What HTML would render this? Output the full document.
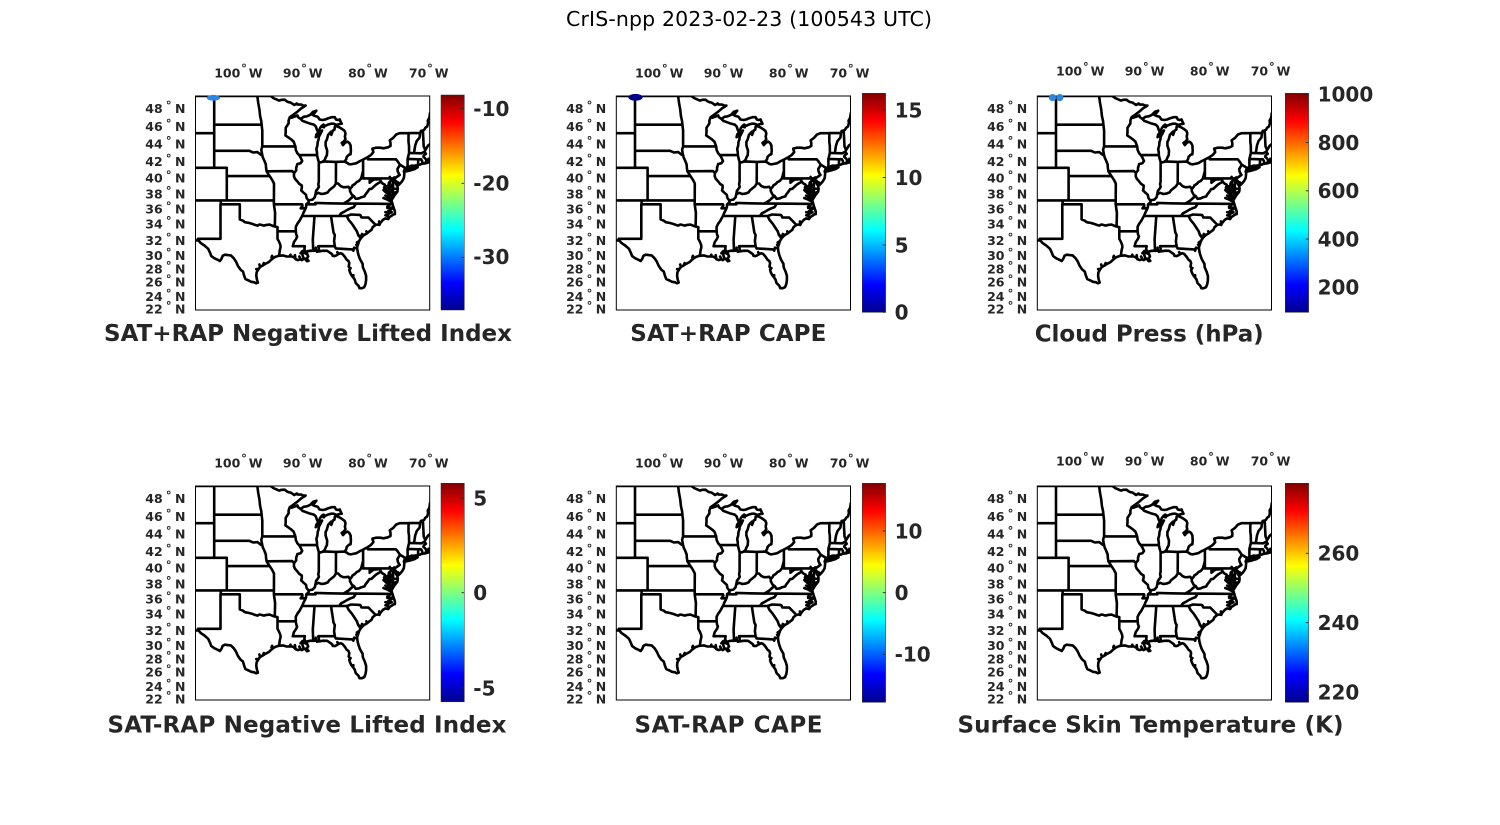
<!DOCTYPE html>
<html><head><meta charset="utf-8">
<style>
html,body{margin:0;padding:0;background:#fff;}
svg{display:block;}
.t12{font-family:"DejaVu Sans","Liberation Sans",sans-serif;font-weight:bold;font-size:12.5px;fill:#262626;}
.t20{font-family:"DejaVu Sans","Liberation Sans",sans-serif;font-weight:bold;font-size:20px;fill:#262626;}
.t23{font-family:"DejaVu Sans","Liberation Sans",sans-serif;font-weight:bold;font-size:23px;fill:#262626;}
.tm{font-family:"DejaVu Sans","Liberation Sans",sans-serif;font-size:20.5px;fill:#000;}
</style></head>
<body>
<svg width="1500" height="825" viewBox="0 0 1500 825" xmlns="http://www.w3.org/2000/svg">
<defs>
<linearGradient id="jet" x1="0" y1="1" x2="0" y2="0">
<stop offset="0" stop-color="#00008f"/>
<stop offset="0.125" stop-color="#0000ff"/>
<stop offset="0.375" stop-color="#00ffff"/>
<stop offset="0.625" stop-color="#ffff00"/>
<stop offset="0.875" stop-color="#ff0000"/>
<stop offset="1" stop-color="#800000"/>
</linearGradient>
<clipPath id="mc"><rect x="0" y="0" width="234.2" height="214"/></clipPath>
<g id="map">
<rect x="0" y="0" width="234.2" height="214" fill="#fff"/>
<path id="mp" clip-path="url(#mc)" fill="none" stroke="#000" stroke-width="2.6" stroke-linejoin="round" stroke-linecap="round" d=""/>
<rect x="0" y="0" width="234.2" height="214" fill="none" stroke="#000" stroke-width="1"/>
</g>
<g id="lat">
<text class="t12" text-anchor="end" x="-32.8" y="17">48</text>
<text class="t12" text-anchor="end" x="-32.8" y="35.1">46</text>
<text class="t12" text-anchor="end" x="-32.8" y="52.4">44</text>
<text class="t12" text-anchor="end" x="-32.8" y="70.1">42</text>
<text class="t12" text-anchor="end" x="-32.8" y="86.7">40</text>
<text class="t12" text-anchor="end" x="-32.8" y="102.4">38</text>
<text class="t12" text-anchor="end" x="-32.8" y="117.7">36</text>
<text class="t12" text-anchor="end" x="-32.8" y="132.4">34</text>
<text class="t12" text-anchor="end" x="-32.8" y="149.1">32</text>
<text class="t12" text-anchor="end" x="-32.8" y="164.1">30</text>
<text class="t12" text-anchor="end" x="-32.8" y="177.4">28</text>
<text class="t12" text-anchor="end" x="-32.8" y="190.7">26</text>
<text class="t12" text-anchor="end" x="-32.8" y="205.1">24</text>
<text class="t12" text-anchor="end" x="-32.8" y="217.4">22</text>
<g class="t12">
<text x="-20.5" y="17">N</text><text x="-20.5" y="35.1">N</text><text x="-20.5" y="52.4">N</text><text x="-20.5" y="70.1">N</text><text x="-20.5" y="86.7">N</text><text x="-20.5" y="102.4">N</text><text x="-20.5" y="117.7">N</text><text x="-20.5" y="132.4">N</text><text x="-20.5" y="149.1">N</text><text x="-20.5" y="164.1">N</text><text x="-20.5" y="177.4">N</text><text x="-20.5" y="190.7">N</text><text x="-20.5" y="205.1">N</text><text x="-20.5" y="217.4">N</text>
</g>
<g fill="none" stroke="#262626" stroke-width="0.9">
<circle cx="-26.8" cy="6.5" r="1.4"/><circle cx="-26.8" cy="24.6" r="1.4"/><circle cx="-26.8" cy="41.9" r="1.4"/><circle cx="-26.8" cy="59.6" r="1.4"/><circle cx="-26.8" cy="76.2" r="1.4"/><circle cx="-26.8" cy="91.9" r="1.4"/><circle cx="-26.8" cy="107.2" r="1.4"/><circle cx="-26.8" cy="121.9" r="1.4"/><circle cx="-26.8" cy="138.6" r="1.4"/><circle cx="-26.8" cy="153.6" r="1.4"/><circle cx="-26.8" cy="166.9" r="1.4"/><circle cx="-26.8" cy="180.2" r="1.4"/><circle cx="-26.8" cy="194.6" r="1.4"/><circle cx="-26.8" cy="206.9" r="1.4"/>
</g>
</g>
<g id="lon">
<text class="t12" text-anchor="end" x="44.8" y="0">100</text>
<text class="t12" text-anchor="end" x="104.8" y="0">90</text>
<text class="t12" text-anchor="end" x="170" y="0">80</text>
<text class="t12" text-anchor="end" x="230.8" y="0">70</text>
<text class="t12" x="53.3" y="0">W</text>
<text class="t12" x="113.3" y="0">W</text>
<text class="t12" x="178.5" y="0">W</text>
<text class="t12" x="239.3" y="0">W</text>
<g fill="none" stroke="#262626" stroke-width="0.9">
<circle cx="48.5" cy="-11.8" r="1.4"/><circle cx="108.5" cy="-11.8" r="1.4"/><circle cx="173.7" cy="-11.8" r="1.4"/><circle cx="234.5" cy="-11.8" r="1.4"/>
</g>
</g>
</defs>

<text class="tm" x="749" y="26" text-anchor="middle" textLength="366">CrIS-npp 2023-02-23 (100543 UTC)</text>

<use href="#map" x="195.5" y="96"/>
<use href="#map" x="616.3" y="96"/>
<use href="#map" x="1037.3" y="96"/>
<use href="#map" x="195.5" y="486"/>
<use href="#map" x="616.3" y="486"/>
<use href="#map" x="1037.3" y="486"/>

<use href="#lat" x="195.5" y="96"/>
<use href="#lat" x="616.3" y="96"/>
<use href="#lat" x="1037.3" y="96"/>
<use href="#lat" x="195.5" y="486"/>
<use href="#lat" x="616.3" y="486"/>
<use href="#lat" x="1037.3" y="486"/>

<use href="#lon" x="195.5" y="77.3"/>
<use href="#lon" x="616.3" y="77.5"/>
<use href="#lon" x="1037.3" y="75.7"/>
<use href="#lon" x="195.5" y="467.3"/>
<use href="#lon" x="616.3" y="467.3"/>
<use href="#lon" x="1037.3" y="465.7"/>

<ellipse cx="213.4" cy="97.8" rx="6.7" ry="2.9" fill="#2a86e0"/>
<ellipse cx="635.5" cy="97.3" rx="7.2" ry="3.4" fill="#00008c"/>
<circle cx="1052.5" cy="97.6" r="3.6" fill="#2c87dc"/>
<circle cx="1059.8" cy="97.6" r="3.6" fill="#2c87dc"/>

<g stroke="#262626" stroke-width="0.5">
<rect x="441" y="95" width="23.3" height="215" fill="url(#jet)"/>
<rect x="862.3" y="93.3" width="23.3" height="219" fill="url(#jet)"/>
<rect x="1285.3" y="93.3" width="23.3" height="219" fill="url(#jet)"/>
<rect x="441" y="483.3" width="23.3" height="218.5" fill="url(#jet)"/>
<rect x="862.3" y="483.3" width="23.3" height="219" fill="url(#jet)"/>
<rect x="1285.3" y="483.3" width="23.3" height="219" fill="url(#jet)"/>
</g>
<g stroke="#262626" stroke-width="0.9">
<path d="M461.5 108.5H464.3M461.5 183.3H464.3M461.5 257.5H464.3"/>
<path d="M882.8 110H885.6M882.8 177.5H885.6M882.8 245H885.6M882.8 312.3H885.6"/>
<path d="M1305.8 94.3H1308.6M1305.8 142.6H1308.6M1305.8 190.8H1308.6M1305.8 239.1H1308.6M1305.8 287.3H1308.6"/>
<path d="M461.5 498.3H464.3M461.5 592.7H464.3M461.5 688H464.3"/>
<path d="M882.8 531H885.6M882.8 592.7H885.6M882.8 654.3H885.6"/>
<path d="M1305.8 553.3H1308.6M1305.8 622.7H1308.6M1305.8 692.3H1308.6"/>
</g>
<g class="t20">
<text x="473.3" y="115.8">-10</text>
<text x="473.3" y="190.6">-20</text>
<text x="473.3" y="264">-30</text>
<text x="894.6" y="117.3">15</text>
<text x="894.6" y="184.8">10</text>
<text x="894.6" y="252.3">5</text>
<text x="894.6" y="319.6">0</text>
<text x="1317.6" y="101.6">1000</text>
<text x="1317.6" y="149.9">800</text>
<text x="1317.6" y="198.1">600</text>
<text x="1317.6" y="246.4">400</text>
<text x="1317.6" y="294.6">200</text>
<text x="473.3" y="505.6">5</text>
<text x="473.3" y="600">0</text>
<text x="473.3" y="695.3">-5</text>
<text x="894.6" y="538.3">10</text>
<text x="894.6" y="600">0</text>
<text x="894.6" y="661.6">-10</text>
<text x="1317.6" y="560.6">260</text>
<text x="1317.6" y="630">240</text>
<text x="1317.6" y="699.6">220</text>
</g>

<g class="t23" text-anchor="middle">
<text x="308" y="341" textLength="408">SAT+RAP Negative Lifted Index</text>
<text x="728.3" y="341" textLength="196">SAT+RAP CAPE</text>
<text x="1149.2" y="341.3" textLength="229">Cloud Press (hPa)</text>
<text x="307" y="732.7" textLength="399">SAT-RAP Negative Lifted Index</text>
<text x="728.5" y="732.7" textLength="188">SAT-RAP CAPE</text>
<text x="1150.5" y="732.7" textLength="386">Surface Skin Temperature (K)</text>
</g>
</svg>

<script>
(function(){
var R=362.7, K=R*Math.PI/180;
function M(l){return Math.log(Math.tan(Math.PI/4+l*Math.PI/360));}
var M49=M(49);
var L=[
[-107,49,-95.15,49,-94.9,48.9,-94.7,48.78,-94.2,48.65,-93.8,48.52,-93.4,48.6,-92.9,48.62,-92.6,48.45,-92.3,48.35,-92.0,48.32,-91.7,48.2,-91.4,48.06,-91.0,48.22,-90.8,48.1,-90.3,48.1,-89.9,47.98,-89.6,48.0,-90.3,47.7,-90.9,47.35,-91.5,47.05,-92.1,46.75,-91.8,46.7,-91.2,46.85,-90.9,46.95,-90.8,46.75,-90.4,46.57,-89.9,46.8,-89.4,46.85,-88.9,47.0,-88.4,47.35,-87.9,47.45,-88.2,47.2,-88.5,47.0,-88.2,46.9,-87.7,46.8,-87.4,46.5,-86.9,46.45,-86.5,46.5,-86.0,46.65,-85.5,46.75,-85.0,46.75,-84.8,46.5,-84.5,46.45,-84.2,46.5,-84.1,46.3,-83.9,46.05,-84.3,46.0,-84.7,45.9,-85.2,46.05,-85.6,46.05,-86.1,45.95,-86.5,45.8,-86.8,45.95,-87.0,45.7,-86.7,45.65,-87.0,45.85,-87.3,45.6,-87.6,45.1,-87.9,44.85,-88.0,44.55,-87.7,44.75,-87.4,45.0,-87.0,45.3,-87.2,45.0,-87.5,44.6,-87.55,44.3,-87.7,44.0,-87.75,43.6,-87.9,43.2,-87.8,42.8,-87.8,42.5,-87.65,42.0,-87.53,41.7,-87.3,41.63,-86.9,41.72,-86.6,41.9,-86.45,42.2,-86.25,42.5,-86.2,43.0,-86.45,43.6,-86.45,44.0,-86.25,44.3,-86.05,44.8,-85.8,45.0,-85.6,45.15,-85.55,44.8,-85.45,45.0,-85.3,45.3,-85.05,45.4,-85.0,45.7,-84.75,45.78,-84.3,45.65,-83.9,45.5,-83.45,45.25,-83.3,45.0,-83.4,44.6,-83.3,44.3,-83.6,44.05,-83.9,43.9,-83.7,43.65,-83.4,43.9,-83.0,44.05,-82.7,43.9,-82.5,43.6,-82.45,43.0,-82.5,42.6,-82.7,42.55,-82.9,42.45,-83.1,42.3,-83.2,42.0,-83.45,41.73,-83.1,41.6,-82.8,41.45,-82.5,41.4,-81.9,41.5,-81.6,41.55,-81.0,41.8,-80.5,41.98,-80.1,42.15,-79.76,42.27,-79.3,42.5,-78.9,42.85,-79.0,43.1,-79.05,43.25,-78.5,43.35,-77.8,43.35,-77.3,43.28,-76.6,43.4,-76.2,43.55,-76.2,43.9,-76.3,44.2,-75.8,44.45,-75.3,44.85,-74.75,45.0,-73.34,45.01,-71.5,45.01,-71.4,45.25,-71.08,45.3,-70.85,45.4,-70.7,45.6,-70.4,45.75,-70.25,46.1,-70.3,46.4,-70.05,46.7,-69.95,47.2],
[-69.9,43.8,-70.25,43.6,-70.6,43.2,-70.75,43.05,-70.8,42.85,-70.6,42.65,-70.95,42.45,-71.0,42.3,-70.7,42.1,-70.5,41.85,-70.6,41.75,-70.0,41.78,-70.05,42.05,-70.2,42.06,-70.0,41.9,-69.95,41.67,-70.3,41.62,-70.65,41.53,-71.0,41.5,-71.15,41.48,-71.4,41.45,-71.5,41.38,-71.85,41.32,-72.3,41.27,-72.9,41.25,-73.3,41.12,-73.65,41.0,-73.78,40.85,-73.95,40.75,-74.0,40.7,-74.1,40.55,-74.0,40.4,-74.05,40.0,-74.1,39.75,-74.35,39.4,-74.6,39.15,-74.9,38.93,-74.95,39.2,-75.2,39.3,-75.5,39.5,-75.55,39.65,-75.5,39.4,-75.3,39.0,-75.1,38.8,-75.05,38.45,-75.1,38.1,-75.3,37.9,-75.6,37.6,-75.9,37.2,-75.97,37.12,-75.95,37.5,-75.85,37.95,-76.1,38.2,-76.3,38.6,-76.2,38.95,-76.3,39.2,-76.1,39.5,-76.0,39.55,-76.2,39.4,-76.45,39.2,-76.5,38.9,-76.5,38.4,-76.3,38.05,-76.6,38.15,-76.9,38.25,-77.0,38.4,-77.2,38.6,-77.05,38.85,-77.0,38.5,-76.5,38.0,-76.3,37.8,-76.4,37.5,-76.25,37.2,-76.5,37.0,-76.3,36.95,-76.0,36.9,-75.9,36.55,-75.75,36.2,-75.5,35.6,-75.5,35.25,-75.75,35.2,-76.0,35.05,-76.3,34.9,-76.55,34.6,-77.0,34.7,-77.4,34.5,-77.8,34.1,-77.95,33.85,-78.2,33.9,-78.55,33.85,-79.0,33.55,-79.2,33.2,-79.6,32.95,-79.9,32.75,-80.4,32.5,-80.7,32.25,-80.9,32.05,-81.15,31.7,-81.3,31.3,-81.45,30.9,-81.45,30.7,-81.4,30.3,-81.25,29.8,-81.0,29.2,-80.6,28.6,-80.55,28.1,-80.25,27.5,-80.05,26.9,-80.05,26.3,-80.15,25.75,-80.35,25.3,-80.7,25.15,-81.1,25.15,-81.25,25.5,-81.7,25.9,-81.85,26.4,-82.1,26.7,-82.35,27.0,-82.6,27.4,-82.7,27.75,-82.6,28.0,-82.8,28.2,-82.7,28.7,-82.85,29.0,-83.1,29.15,-83.45,29.6,-83.8,29.95,-84.1,30.05,-84.4,29.95,-84.75,29.75,-85.0,29.65,-85.35,29.7,-85.4,29.9,-85.7,30.1,-86.2,30.38,-86.8,30.4,-87.3,30.33,-87.55,30.3,-87.8,30.25,-88.0,30.65,-88.1,30.4,-88.4,30.38,-88.8,30.4,-89.3,30.32,-89.6,30.2,-89.75,30.15,-89.6,30.0,-89.4,30.05,-89.2,29.6,-89.45,29.3,-89.15,29.0,-89.4,28.95,-89.7,29.3,-89.95,29.25,-90.2,29.1,-90.4,29.25,-90.8,29.1,-91.2,29.25,-91.4,29.45,-91.75,29.6,-92.1,29.6,-92.6,29.6,-93.2,29.75,-93.85,29.7,-94.4,29.55,-94.75,29.35,-95.05,29.15,-95.4,28.85,-95.95,28.6,-96.4,28.35,-96.8,28.15,-97.05,27.85,-97.35,27.4,-97.4,26.9,-97.3,26.4,-97.15,25.95,-97.45,25.85,-97.7,26.0,-98.2,26.07,-98.6,26.25,-99.1,26.45,-99.3,26.9,-99.5,27.5,-99.9,27.8,-100.3,28.3,-100.6,28.9,-100.95,29.35,-101.4,29.75,-101.9,29.8,-102.35,29.85,-102.7,29.7,-102.9,29.3,-103.15,28.98,-103.5,29.15,-104.0,29.35,-104.5,29.65,-104.7,30.1,-105.0,30.65,-105.6,31.1,-106.2,31.45,-106.53,31.78,-107.1,31.78],
[-74.0,40.6,-73.7,40.58,-73.0,40.7,-72.4,40.85,-71.9,41.07,-72.3,41.05,-72.7,40.95,-73.2,40.92,-73.7,40.87,-74.0,40.7],
[-76.0,36.9,-76.2,36.5,-76.7,36.2,-76.0,35.9,-76.6,35.6,-76.0,35.5,-76.5,35.3,-76.9,35.1,-76.5,34.9,-76.55,34.7],
[-90.4,30.05,-90.1,30.35,-89.8,30.25,-89.95,30.05,-90.4,30.05],
[-76.3,37.6,-76.9,38.0,-77.3,38.3],
[-76.4,37.25,-76.8,37.5,-77.0,37.6],
[-76.3,36.95,-76.7,37.1,-77.3,37.3],
[-76.4,38.3,-76.7,38.8],
[-76.1,39.55,-76.3,39.9],
[-76.25,38.6,-75.9,38.8],
[-76.0,38.25,-75.7,38.5],
[-76.1,38.05,-75.8,38.2],
[-75.75,36.1,-76.7,36.05],
[-76.5,35.35,-77.0,35.5],
[-76.6,35.0,-77.0,35.1],
[-77.95,33.9,-78.0,34.3],
[-79.9,32.75,-80.0,33.0],
[-80.4,32.5,-80.7,32.65],
[-80.7,32.25,-81.0,32.4],
[-81.15,31.7,-81.5,31.5],
[-81.3,31.3,-81.6,31.2],
[-94.75,29.35,-94.9,29.7,-95.0,29.5],
[-96.4,28.35,-96.2,28.7],
[-96.8,28.15,-96.9,28.5],
[-97.05,27.85,-97.4,27.85],
[-89.9,29.3,-90.1,29.8],
[-90.4,29.25,-90.6,29.6],
[-91.2,29.25,-91.3,29.8],
[-92.1,29.6,-92.0,29.85],
[-82.7,27.75,-82.5,28.0],
[-82.1,26.7,-82.05,27.0],
[-88.0,30.65,-88.0,30.8],
[-84.4,29.95,-84.6,30.2],
[-107,45,-104.05,45],
[-104.05,49,-104.05,41],
[-107,41,-102.05,41,-102.05,40,-102.05,37],
[-104.05,45.94,-96.56,45.94],
[-104.05,43,-98.5,43,-97.9,42.8,-97.2,42.85,-96.6,42.5,-96.45,42.49],
[-102.05,40,-95.3,40],
[-107,37,-94.62,37],
[-103.0,37,-103.0,36.5,-100,36.5],
[-103.05,36.5,-103.05,32.0,-106.62,32.0,-106.53,31.78],
[-100,36.5,-100,34.56,-99.5,34.4,-99.2,34.2,-98.5,34.1,-98.1,34.0,-97.6,33.85,-97.2,33.75,-96.9,33.9,-96.6,33.85,-96.2,33.75,-95.8,33.85,-95.3,33.88,-94.9,33.75,-94.5,33.64,-94.04,33.55],
[-94.62,36.5,-94.43,35.4,-94.48,33.64],
[-95.77,40.58,-95.3,40.0,-95.1,39.8,-94.9,39.55,-94.6,39.1,-94.62,36.5],
[-94.62,36.5,-90.15,36.5,-90.1,36.3,-90.38,36.0,-89.7,36.0],
[-94.04,33.55,-94.04,33.0,-91.15,33.0],
[-94.04,33.0,-94.04,32.0,-93.8,31.6,-93.6,31.2,-93.55,30.9,-93.7,30.4,-93.75,30.0,-93.85,29.7],
[-97.23,49.0,-97.1,48.3,-96.9,47.6,-96.8,46.9,-96.6,46.3,-96.56,45.94,-96.45,45.3,-96.45,43.5],
[-96.45,43.5,-91.22,43.5],
[-96.45,43.5,-96.6,43.1,-96.45,42.49],
[-96.45,42.49,-96.35,42.2,-96.1,41.8,-95.9,41.4,-95.85,40.95,-95.77,40.58],
[-95.77,40.58,-91.73,40.61,-91.42,40.38],
[-92.1,46.75,-92.29,46.4,-92.29,46.08,-92.75,45.6,-92.75,45.1,-92.8,44.75,-92.3,44.5,-91.9,44.3,-91.5,44.05,-91.22,43.5],
[-91.22,43.5,-91.15,43.1,-90.9,42.7,-90.64,42.5,-90.4,42.2,-90.15,41.8,-90.4,41.55,-90.9,41.45,-91.1,41.0,-91.1,40.7,-91.42,40.38,-91.45,40.0,-91.3,39.7,-90.9,39.35,-90.6,39.05,-90.2,38.85,-90.2,38.55,-90.3,38.25,-89.9,37.95,-89.55,37.7,-89.45,37.3,-89.15,37.0,-89.1,36.8,-89.35,36.6,-89.5,36.5,-89.55,36.1,-89.7,35.8,-89.95,35.4,-90.1,35.1,-90.3,34.8,-90.55,34.4,-90.9,34.0,-91.15,33.6,-91.15,33.0,-91.1,32.6,-90.95,32.3,-91.1,32.0,-91.45,31.55,-91.63,31.0],
[-91.63,31.0,-89.73,31.0,-89.8,30.6,-89.6,30.2],
[-90.64,42.5,-87.8,42.5],
[-90.4,46.57,-90.1,46.35,-89.1,46.1,-88.3,45.95,-88.0,45.75,-87.8,45.35,-87.6,45.1],
[-87.53,41.7,-87.53,39.35,-87.6,39.0,-87.5,38.7,-87.7,38.45,-87.95,38.2,-88.05,37.78],
[-89.15,37.0,-88.5,37.1,-88.15,37.4,-88.05,37.78,-87.6,37.95,-87.1,37.8,-86.6,37.85,-86.1,38.0,-85.9,38.25,-85.5,38.5,-85.1,38.75,-84.82,39.1,-84.45,39.1,-84.1,38.8,-83.65,38.65,-83.3,38.65,-82.85,38.7,-82.6,38.42,-82.3,38.7,-82.2,38.85,-81.8,39.05,-81.5,39.3,-81.2,39.4,-80.85,39.7,-80.7,40.1,-80.52,40.64],
[-84.82,39.1,-84.81,41.7],
[-86.82,41.76,-84.81,41.7,-83.45,41.73],
[-80.52,39.72,-80.52,41.98],
[-80.52,39.72,-75.79,39.72],
[-79.48,39.72,-79.48,39.2,-79.1,39.45,-78.75,39.6,-78.3,39.6,-78.0,39.65,-77.8,39.5,-77.72,39.32],
[-77.72,39.32,-78.1,39.15,-78.4,39.0,-78.8,38.75,-79.2,38.45,-79.55,38.4,-79.8,38.1,-80.2,37.7,-80.3,37.5,-80.8,37.4,-81.2,37.25,-81.7,37.2,-81.97,37.54],
[-81.97,37.54,-82.3,37.7,-82.6,38.15,-82.6,38.42],
[-81.97,37.54,-82.4,37.3,-82.8,37.0,-83.2,36.8,-83.67,36.6],
[-77.72,39.32,-77.45,39.1,-77.1,38.95,-77.05,38.85],
[-75.79,39.72,-75.79,38.45,-75.05,38.45],
[-75.79,39.72,-75.6,39.84,-75.4,39.8],
[-75.65,37.95,-75.24,38.03],
[-79.76,42.27,-79.76,42.0,-75.35,42.0,-75.1,41.8,-74.69,41.36],
[-74.69,41.36,-75.1,40.85,-75.05,40.55,-74.85,40.25,-74.75,40.15,-75.1,39.95,-75.4,39.8,-75.55,39.65],
[-74.69,41.36,-73.9,41.0,-74.0,40.7],
[-73.65,41.0,-73.49,41.2,-73.5,42.05,-73.26,42.75,-73.28,43.6,-73.35,44.0,-73.35,44.5,-73.34,45.01],
[-73.5,42.05,-71.8,42.0,-71.38,42.02,-71.2,41.8,-71.12,41.5],
[-71.8,42.0,-71.85,41.32],
[-73.26,42.75,-71.3,42.7,-71.1,42.8,-70.8,42.87],
[-72.46,42.73,-72.4,43.1,-72.3,43.6,-72.05,44.1,-71.6,44.5,-71.5,45.01],
[-70.7,43.08,-70.95,43.5,-71.08,45.3],
[-89.5,36.5,-88.05,36.5,-88.07,36.68,-86.0,36.63,-83.67,36.6],
[-83.67,36.6,-81.65,36.6,-75.87,36.55],
[-81.65,36.6,-82.0,36.15,-82.5,36.0,-83.0,35.8,-83.5,35.56,-84.0,35.35,-84.32,35.0],
[-90.1,35.0,-84.32,35.0,-83.1,35.0],
[-83.1,35.0,-82.4,35.2,-81.05,35.15,-80.93,35.1,-80.8,34.82,-79.67,34.8,-78.55,33.85],
[-83.1,35.0,-82.8,34.5,-82.3,34.0,-81.9,33.5,-81.5,33.0,-81.3,32.5,-80.9,32.05],
[-85.6,35.0,-85.2,32.85,-85.0,32.5,-85.1,31.7,-85.0,31.0],
[-87.6,31.0,-85.0,31.0,-84.86,30.71,-82.2,30.57,-82.05,30.4,-81.95,30.8,-81.45,30.72],
[-87.6,31.0,-87.45,30.3],
[-88.2,35.0,-88.47,31.9,-88.4,30.38]
];
var d='';
for(var j=0;j<L.length;j++){var a=L[j];
 for(var i=0;i<a.length;i+=2){
  var x=((a[i]+107)*K).toFixed(1), y=((M49-M(a[i+1]))*R).toFixed(1);
  d+=(i?'L':'M')+x+' '+y;
 }}
document.getElementById('mp').setAttribute('d',d);
})();
</script>
</body></html>
